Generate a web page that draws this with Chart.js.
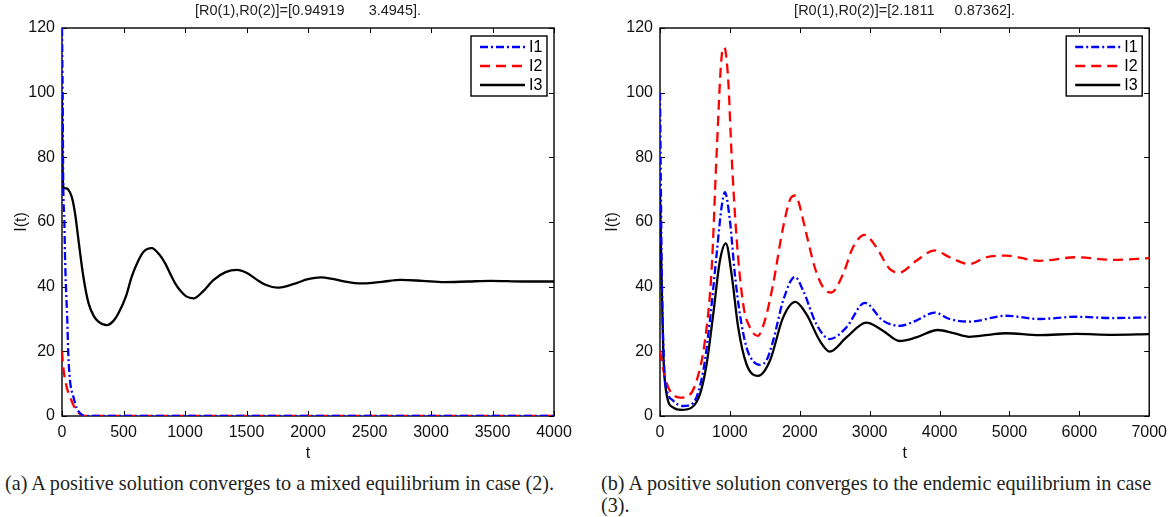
<!DOCTYPE html>
<html lang="en">
<head>
<meta charset="UTF-8">
<title>I(t) solutions</title>
<script src="https://cdn.jsdelivr.net/npm/chart.js"></script>
<style>
    body { margin: 0; background: #fff; }
    #wrap { position: relative; width: 1174px; height: 517px; overflow: hidden; }
    canvas { position: absolute; top: 0; }
    #cA { left: 0; }
    #cB { left: 590px; }
    .cap { position: absolute; font-family: "Liberation Serif", serif; font-size: 20.2px; line-height: 22px; color: #231f20; white-space: nowrap; }
</style>
</head>
<body>
<div id="wrap">
    <canvas id="cA" width="590" height="470"></canvas>
    <canvas id="cB" width="584" height="470"></canvas>
    <div class="cap" style="left:5px; top:472px;">(a) A positive solution converges to a mixed equilibrium in case (2).</div>
    <div class="cap" style="left:601px; top:472px;">(b) A positive solution converges to the endemic equilibrium in case<br>(3).</div>
</div>
<script>
    // (a) case (2), t in [0, 4000]
    const tA1 = [0, 5, 10, 19, 24, 32, 43, 51, 65, 92, 120, 160, 200, 4000];
    const I1a = [120, 100, 72, 60.6, 50.4, 40, 29.7, 19.4, 11, 6, 2.4, 0.4, 0, 0];
    const tA2 = [0, 10, 38, 65, 92, 120, 160, 200, 4000];
    const I2a = [20, 15.2, 9, 6, 3.4, 1.6, 0.3, 0, 0];
    const tA3 = [0, 3, 8, 15, 30, 51, 79, 106, 134, 174, 215, 260, 296, 364, 420, 459, 520, 567, 620, 663, 730, 790, 839, 880, 920, 961, 1010, 1070, 1140, 1233, 1330, 1423, 1500, 1586, 1660, 1749, 1830, 1912, 2000, 2102, 2200, 2292, 2380, 2455, 2600, 2754, 2930, 3107, 3300, 3487, 3750, 4000];
    const I3a = [100, 82, 72, 70.6, 70.4, 70, 67.8, 62.7, 54.4, 43, 35, 30.8, 29.2, 28.1, 29.5, 31.8, 37, 43.1, 48, 50.8, 51.9, 50, 47.2, 44, 41, 38.8, 37, 36.4, 38.3, 42.1, 44.5, 45.2, 44.3, 42.1, 40.5, 39.7, 40.2, 41.2, 42.3, 42.9, 42.4, 41.6, 41.1, 41, 41.5, 42.1, 41.8, 41.4, 41.6, 41.8, 41.6, 41.6];

    // (b) case (3), t in [0, 7000]
    const tB1 = [0, 25, 60, 100, 190, 333, 476, 619, 714, 810, 881, 929, 1000, 1071, 1143, 1238, 1330, 1430, 1530, 1619, 1762, 1930, 2048, 2238, 2429, 2667, 2930, 3190, 3429, 3667, 3930, 4143, 4429, 4952, 5429, 5952, 6476, 7000];
    const I1b = [100, 45, 15, 8, 4.7, 3.1, 4.1, 14, 29.5, 50, 64.6, 69.2, 60.5, 43.9, 31.5, 21.2, 17, 15.8, 17.5, 23.3, 35.7, 43, 38.8, 28.4, 23.8, 27.4, 35, 29.5, 27.9, 29.5, 32, 30, 29.2, 31, 30, 30.7, 30.3, 30.5];
    const tB2 = [0, 71, 143, 286, 405, 524, 643, 738, 810, 881, 920, 976, 1024, 1095, 1190, 1286, 1400, 1500, 1619, 1762, 1881, 1940, 1976, 2095, 2214, 2333, 2452, 2619, 2762, 2930, 3095, 3286, 3429, 3667, 3930, 4143, 4429, 4667, 4952, 5429, 5952, 6476, 7000];
    const I2b = [20, 11.9, 7.8, 5.7, 6.2, 10.9, 23.3, 45, 81, 111, 114, 104, 81, 55.3, 34.6, 27.4, 24.8, 29.5, 40.8, 58.4, 67.7, 68.2, 66.7, 56.3, 46, 39.8, 38.2, 43.9, 52.2, 56, 52.2, 45.5, 44.4, 48, 51.2, 49.1, 47, 49.1, 49.6, 48, 49.1, 48.3, 48.8];
    const tB3 = [0, 20, 48, 95, 190, 310, 452, 571, 667, 762, 857, 943, 1024, 1119, 1238, 1405, 1571, 1762, 1938, 2095, 2286, 2429, 2667, 2952, 3190, 3429, 3667, 3976, 4200, 4429, 4700, 4952, 5429, 5952, 6476, 7000];
    const I3b = [70, 45, 19, 6.7, 2.6, 1.9, 2.6, 6.7, 16, 31.5, 48, 53.4, 43.9, 27.4, 16, 12.4, 17, 30.5, 35.3, 31.5, 23.3, 19.9, 24.3, 28.9, 26.4, 23.2, 24.3, 26.6, 25.6, 24.5, 25.1, 25.6, 25, 25.4, 25.1, 25.3];

    const seriesNames = ['I1', 'I2', 'I3'];
    const yTicks = [0, 20, 40, 60, 80, 100, 120];

    const pts = (ts, vs) => ts.map((t, i) => ({ x: t, y: vs[i] }));

    const styles = [
        { borderColor: '#0000ff', borderDash: [8, 3, 2, 3] },
        { borderColor: '#ff0000', borderDash: [10, 6] },
        { borderColor: '#000000', borderDash: [] }
    ];

    const sans = '"Liberation Sans", Arial, sans-serif';

    // box, inward tick marks on all four sides
    const framePlugin = {
        id: 'frame',
        beforeDatasetsDraw(chart) {
            const { ctx, chartArea: a, scales: { x, y } } = chart;
            ctx.save();
            ctx.strokeStyle = '#000';
            ctx.lineWidth = 1.4;
            ctx.strokeRect(a.left, a.top, a.right - a.left, a.bottom - a.top);
            ctx.beginPath();
            x.ticks.forEach(t => {
                const px = Math.round(x.getPixelForValue(t.value)) + 0.5;
                ctx.moveTo(px, a.bottom); ctx.lineTo(px, a.bottom - 5);
                ctx.moveTo(px, a.top); ctx.lineTo(px, a.top + 5);
            });
            y.ticks.forEach(t => {
                const py = Math.round(y.getPixelForValue(t.value)) + 0.5;
                ctx.moveTo(a.left, py); ctx.lineTo(a.left + 5, py);
                ctx.moveTo(a.right, py); ctx.lineTo(a.right - 5, py);
            });
            ctx.lineWidth = 1;
            ctx.stroke();
            ctx.restore();
        }
    };

    // matlab style legend box in the upper right corner of the axes
    const boxLegend = {
        id: 'boxLegend',
        afterDatasetsDraw(chart) {
            const { ctx, chartArea: a } = chart;
            const w = 76, h = 60;
            const bx = a.right - 7 - w, by = a.top + 8;
            ctx.save();
            ctx.fillStyle = '#fff';
            ctx.fillRect(bx, by, w, h);
            ctx.strokeStyle = '#000';
            ctx.lineWidth = 1.4;
            ctx.strokeRect(bx, by, w, h);
            ctx.font = '16px ' + sans;
            ctx.textBaseline = 'middle';
            chart.data.datasets.forEach((ds, i) => {
                const ly = by + 11 + i * 19;
                ctx.beginPath();
                ctx.strokeStyle = ds.borderColor;
                ctx.lineWidth = ds.borderWidth;
                ctx.setLineDash(ds.borderDash);
                ctx.moveTo(bx + 9, ly);
                ctx.lineTo(bx + 54, ly);
                ctx.stroke();
                ctx.setLineDash([]);
                ctx.fillStyle = '#000';
                ctx.fillText(ds.label, bx + 58, ly + 1);
            });
            ctx.restore();
        }
    };

    function makeChart(id, title, xMax, xStep, yWidth, padRight, yTitlePad, series) {
        return new Chart(document.getElementById(id), {
            type: 'line',
            data: {
                datasets: series.map((s, i) => ({
                    label: seriesNames[i],
                    data: pts(s[0], s[1]),
                    borderColor: styles[i].borderColor,
                    borderDash: styles[i].borderDash,
                    borderWidth: 2.3,
                    pointRadius: 0,
                    fill: false,
                    cubicInterpolationMode: 'monotone'
                }))
            },
            options: {
                responsive: false,
                animation: false,
                layout: { padding: { left: 0, right: padRight, top: 0, bottom: 0 } },
                plugins: {
                    legend: { display: false },
                    tooltip: { enabled: false },
                    title: {
                        display: true,
                        fullSize: false,
                        text: title,
                        color: '#222',
                        font: { family: sans, size: 14.5, weight: 'normal', lineHeight: 1.2 },
                        padding: { top: 2, bottom: 8.6 }
                    }
                },
                scales: {
                    x: {
                        type: 'linear',
                        min: 0, max: xMax,
                        grid: { display: true, drawOnChartArea: false, drawTicks: false },
                        border: { display: false },
                        ticks: {
                            stepSize: xStep, padding: 7, color: '#111',
                            font: { family: sans, size: 16 },
                            callback: v => String(v)
                        },
                        title: {
                            display: true, text: 't', color: '#111',
                            font: { family: sans, size: 16 },
                            padding: { top: 0, bottom: 7 }
                        },
                        afterFit(scale) { scale.height = 54; }
                    },
                    y: {
                        min: 0, max: 120,
                        afterBuildTicks(scale) { scale.ticks = yTicks.map(v => ({ value: v })); },
                        grid: { display: true, drawOnChartArea: false, drawTicks: false },
                        border: { display: false },
                        ticks: {
                            padding: 7, color: '#111',
                            font: { family: sans, size: 16 },
                            callback: v => String(v)
                        },
                        title: {
                            display: true, text: 'I(t)', color: '#111',
                            font: { family: sans, size: 16 },
                            padding: { top: yTitlePad, bottom: 0 }
                        },
                        afterFit(scale) { scale.width = yWidth; }
                    }
                }
            },
            plugins: [framePlugin, boxLegend]
        });
    }

    makeChart('cA', '[R0(1),R0(2)]=[0.94919      3.4945].', 4000, 500, 62, 36, 12,
        [[tA1, I1a], [tA2, I2a], [tA3, I3a]]);
    makeChart('cB', '[R0(1),R0(2)]=[2.1811     0.87362].', 7000, 1000, 70, 23, 13,
        [[tB1, I1b], [tB2, I2b], [tB3, I3b]]);
</script>
</body>
</html>
